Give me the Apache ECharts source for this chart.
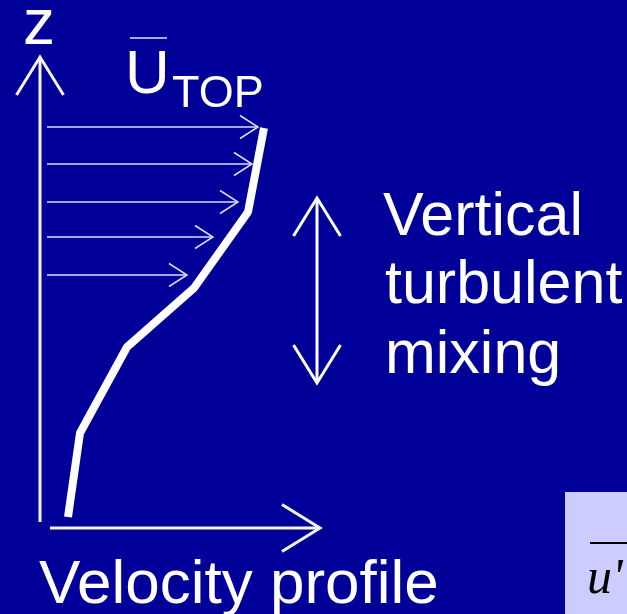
<!DOCTYPE html>
<html><head><meta charset="utf-8">
<script src="https://cdn.jsdelivr.net/npm/echarts@6/dist/echarts.min.js"></script>
<style>html,body{margin:0;padding:0;background:#000099}#c{width:627px;height:614px}</style>
</head><body><div id="c"></div>
<script>
// Velocity profile: mean velocity (u) vs height (z), in picture units
const profileU = [28, 40, 87, 154, 208, 224];
const profileZ = [11, 95, 181, 240, 316, 400];
// Mean-velocity arrows: height, start u, tip u
const arrowZ = [401, 364, 326, 291, 253];
const arrowStartU = [7, 7, 7, 7, 7];
const arrowTipU = [218, 212, 198, 173, 147];
// Axis arrows [u0, z0, u1, z1]
const zAxisArrow = [0, 6, 0, 471];
const uAxisArrow = [10, 0, 280, 0];
// Vertical mixing double arrow [u0, z0, u1, z1]
const mixingArrow = [277, 145, 277, 330];

const BG = '#000099';
const chart = echarts.init(document.getElementById('c'), null, {renderer: 'canvas', width: 627, height: 614});

function arrowRender(headLen, headHalf, width, color, both) {
  return function (params, api) {
    const p0 = api.coord([api.value(0), api.value(1)]);
    const p1 = api.coord([api.value(2), api.value(3)]);
    const dx = p1[0] - p0[0], dy = p1[1] - p0[1];
    const len = Math.hypot(dx, dy);
    const ux = dx / len, uy = dy / len, nx = -uy, ny = ux;
    const head = (tip, sx, sy) => ({
      type: 'polyline',
      shape: {points: [
        [tip[0] - sx * headLen + nx * headHalf, tip[1] - sy * headLen + ny * headHalf],
        [tip[0], tip[1]],
        [tip[0] - sx * headLen - nx * headHalf, tip[1] - sy * headLen - ny * headHalf]
      ]},
      style: {stroke: color, lineWidth: width, fill: 'none', lineCap: 'butt', lineJoin: 'miter'}
    });
    const children = [
      {type: 'line', shape: {x1: p0[0], y1: p0[1], x2: p1[0], y2: p1[1]}, style: {stroke: color, lineWidth: width}},
      head(p1, ux, uy)
    ];
    if (both) children.push(head(p0, -ux, -uy));
    return {type: 'group', children};
  };
}

const thinArrows = arrowZ.map((z, i) => [arrowStartU[i], z, arrowTipU[i], z]);

const txt = (text, x, y, size, opts) => Object.assign({
  type: 'text', x, y, z: 100,
  style: Object.assign({text, fill: '#ffffff', font: size + 'px "Liberation Sans", Arial, sans-serif', textVerticalAlign: 'middle', verticalAlign: 'middle', textAlign: 'left', align: 'left'}, opts || {})
});

chart.setOption({
  backgroundColor: BG,
  animation: false,
  grid: {left: 40, right: 0, top: 0, bottom: 86, containLabel: false},
  xAxis: {type: 'value', min: 0, max: 587, show: false},
  yAxis: {type: 'value', min: 0, max: 528, show: false},
  series: [
    {type: 'custom', silent: true, clip: false, renderItem: arrowRender(18, 11.5, 1.5, '#dcdcff', false), data: thinArrows, z: 3},
    {type: 'custom', silent: true, clip: false, renderItem: arrowRender(38, 23.5, 3, '#f4f4ff', false), data: [zAxisArrow, uAxisArrow], z: 4},
    {type: 'custom', silent: true, clip: false, renderItem: arrowRender(38, 23.5, 3, '#ffffff', true), data: [mixingArrow], z: 4},
    {type: 'line', silent: true, symbol: 'none', data: profileU.map((u, i) => [u, profileZ[i]]),
      lineStyle: {color: '#ffffff', width: 8, cap: 'butt', join: 'bevel'}, z: 5}
  ],
  graphic: [
    txt('z', 39, 26, 64, {textAlign: 'center', align: 'center'}),
    txt('U', 125, 76, 62),
    {type: 'line', z: 100, shape: {x1: 130, y1: 38, x2: 167, y2: 38}, style: {stroke: '#a8a8f0', lineWidth: 2}},
    txt('TOP', 172, 95, 45),
    txt('Vertical', 383, 218, 61),
    txt('turbulent', 385, 286, 61),
    txt('mixing', 385, 356, 61),
    txt('Velocity profile', 39, 586, 62),
    {type: 'rect', z: 90, shape: {x: 565, y: 492, width: 62, height: 122}, style: {fill: '#ccccff'}},
    {type: 'line', z: 100, shape: {x1: 590, y1: 543, x2: 627, y2: 543}, style: {stroke: '#000000', lineWidth: 2}},
    txt("u'", 587, 580, 50, {fill: '#000000', font: 'italic 50px "Liberation Serif", "Times New Roman", serif'})
  ]
});
</script></body></html>
